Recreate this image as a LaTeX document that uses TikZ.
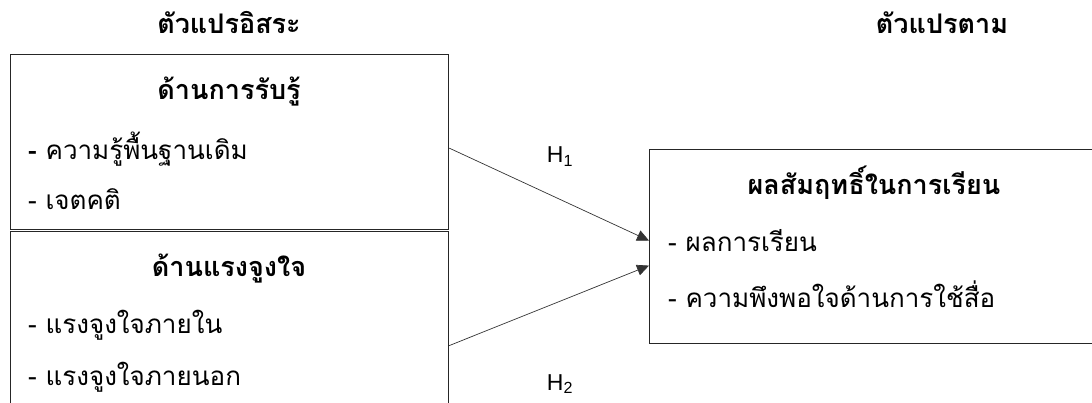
\documentclass[tikz,border=0pt]{standalone}
\usepackage{fontspec}
\setmainfont[Script=Thai]{Loma}
\newfontfamily\latinfont{Liberation Sans}
\usetikzlibrary{arrows.meta}
\tikzset{
  box/.style={draw=black!85, line width=1.2pt, anchor=north west, inner sep=0pt},
  head/.style={font=\fontsize{27}{30}\selectfont\bfseries, anchor=base, inner sep=0pt},
  item/.style={font=\fontsize{26}{30}\selectfont, anchor=base west, inner sep=0pt},
  hyp/.style={font=\latinfont\fontsize{23}{26}\selectfont, anchor=base, inner sep=0pt},
  link/.style={draw=black!80, line width=0.7pt, -{Triangle[length=12pt,width=11pt]}}
}
\begin{document}
\begin{tikzpicture}[x=1pt,y=-1pt]
\useasboundingbox (0,0) rectangle (1092,403);
\clip (0,0) rectangle (1092,403);
% boxes
\node[box, minimum width=438pt, minimum height=175pt] (b1) at (10,54) {};
\node[box, minimum width=438pt, minimum height=200pt] (b2) at (10,231) {};
\node[box, minimum width=470pt, minimum height=194pt] (b3) at (649,149) {};
% headings
\node[head] (t1) at (229,34) {ตัวแปรอิสระ};
\node[head] (t2) at (942,34) {ตัวแปรตาม};
% box 1
\node[head] (h1) at (229,100) {ด้านการรับรู้};
\node[item] (i11) at (28,160) {\textbf{-} ความรู้พื้นฐานเดิม};
\node[item] (i12) at (28,210) {- เจตคติ};
% box 2
\node[head] (h2) at (229,277) {ด้านแรงจูงใจ};
\node[item] (i21) at (28,333) {- แรงจูงใจภายใน};
\node[item] (i22) at (28,385) {- แรงจูงใจภายนอก};
% box 3
\node[head] (h3) at (874,195) {ผลสัมฤทธิ์ในการเรียน};
\node[item] (i31) at (668,252) {- ผลการเรียน};
\node[item] (i32) at (668,307) {- ความพึงพอใจด้านการใช้สื่อ};
% hypotheses
\node[hyp] (H1) at (560,163) {H\textsubscript{1}};
\node[hyp] (H2) at (560,390) {H\textsubscript{2}};
% arrows
\draw[link] ([yshift=-6pt]b1.east) -- ([yshift=6pt]b3.west);
\draw[link] ([yshift=-14pt]b2.east) -- ([yshift=-19pt]b3.west);
\end{tikzpicture}
\end{document}
